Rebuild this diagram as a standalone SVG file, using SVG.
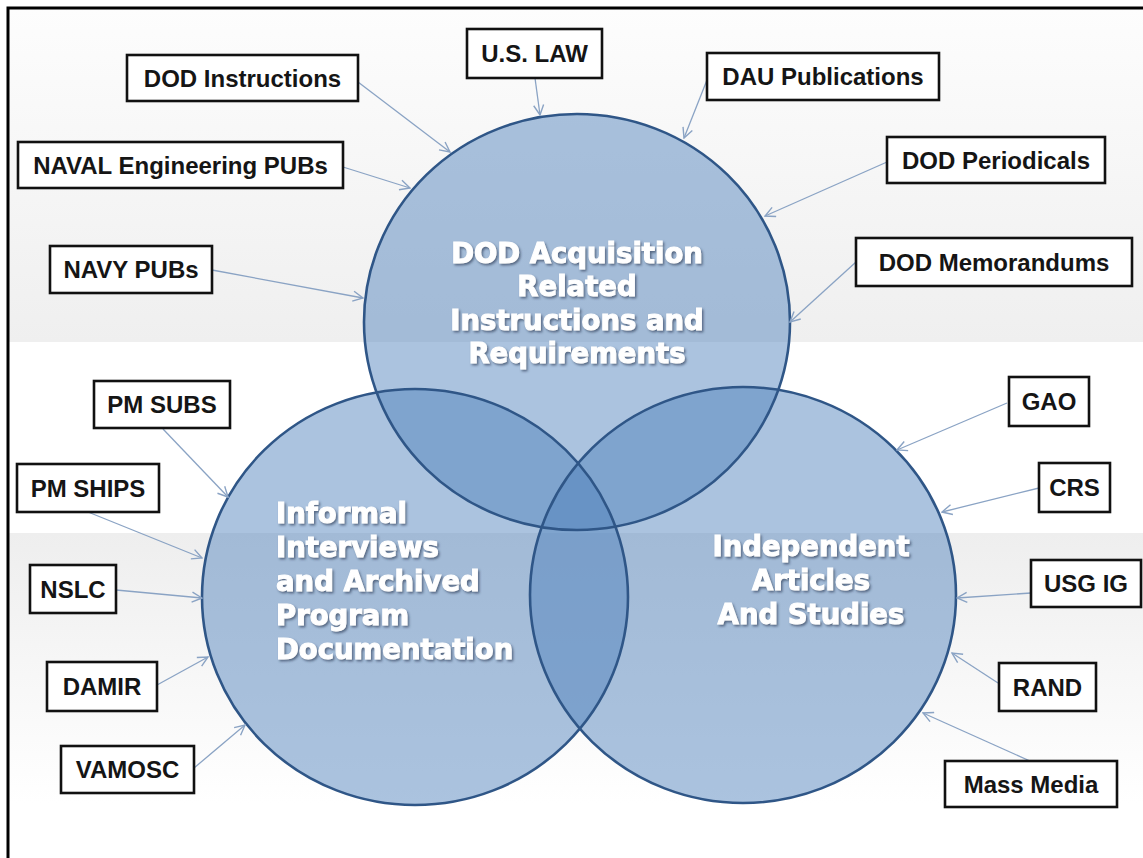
<svg xmlns="http://www.w3.org/2000/svg" xmlns:xlink="http://www.w3.org/1999/xlink" width="1143" height="858" viewBox="0 0 1143 858">
<defs>
<linearGradient id="bandTop" x1="0" y1="0" x2="0" y2="1">
<stop offset="0" stop-color="#fdfdfd"/>
<stop offset="1" stop-color="#efefef"/>
</linearGradient>
<linearGradient id="bandBot" x1="0" y1="0" x2="0" y2="1">
<stop offset="0" stop-color="#eeeeee"/>
<stop offset="1" stop-color="#ffffff"/>
</linearGradient>
<marker id="arr" viewBox="0 0 12 12" refX="11" refY="6" markerWidth="12" markerHeight="12" markerUnits="userSpaceOnUse" orient="auto">
<path d="M1,1 L11,6 L1,11" fill="none" stroke="#8aa3c4" stroke-width="1.4"/>
</marker>
<filter id="shadow" x="-10%" y="-30%" width="120%" height="160%">
<feDropShadow dx="1.5" dy="1.8" stdDeviation="0.9" flood-color="#2a3a55" flood-opacity="0.65"/>
</filter>
<style>
.box{fill:#ffffff;stroke:#111111;stroke-width:2.6}
.lbl{font-family:"Liberation Sans",Arial,sans-serif;font-weight:bold;font-size:24px;fill:#151515;text-anchor:middle}
.circ{fill:#4f81bd;fill-opacity:0.48;stroke:none}
.outl{fill:none;stroke:#2f5687;stroke-width:2.6}
.ctxt{font-family:"DejaVu Sans",Verdana,sans-serif;font-weight:bold;font-size:27.5px;fill:#ffffff;stroke:#ffffff;stroke-width:1;filter:url(#shadow)}
.con{fill:none;stroke:#8aa3c4;stroke-width:1.3;marker-end:url(#arr)}
</style>
</defs>
<rect x="0" y="0" width="1143" height="858" fill="#ffffff"/>
<rect x="8" y="8" width="1135" height="334" fill="url(#bandTop)"/>
<rect x="8" y="533" width="1135" height="270" fill="url(#bandBot)"/>
<path d="M8,870 V8 H1143" fill="none" stroke="#000000" stroke-width="3"/>

<g id="circle-dod">
<ellipse class="circ" cx="577" cy="322" rx="213" ry="208"/>
</g>
<g id="circle-informal">
<ellipse class="circ" cx="415" cy="597" rx="213" ry="208"/>
</g>
<g id="circle-independent">
<ellipse class="circ" cx="743" cy="595" rx="213" ry="208"/>
</g>
<g id="circle-outlines">
<ellipse class="outl" cx="577" cy="322" rx="213" ry="208"/>
<ellipse class="outl" cx="415" cy="597" rx="213" ry="208"/>
<ellipse class="outl" cx="743" cy="595" rx="213" ry="208"/>
</g>
<g id="circle-texts">
<text class="ctxt" text-anchor="middle" x="577" y="263">DOD Acquisition</text>
<text class="ctxt" text-anchor="middle" x="577" y="296">Related</text>
<text class="ctxt" text-anchor="middle" x="577" y="330">Instructions and</text>
<text class="ctxt" text-anchor="middle" x="577" y="363">Requirements</text>
<text class="ctxt" x="276" y="523">Informal</text>
<text class="ctxt" x="276" y="557">Interviews</text>
<text class="ctxt" x="276" y="591">and Archived</text>
<text class="ctxt" x="276" y="625">Program</text>
<text class="ctxt" x="276" y="659">Documentation</text>
<text class="ctxt" text-anchor="middle" x="811" y="556">Independent</text>
<text class="ctxt" text-anchor="middle" x="811" y="590">Articles</text>
<text class="ctxt" text-anchor="middle" x="811" y="624">And Studies</text>
</g>

<g id="connectors">
<line class="con" x1="358" y1="82" x2="450" y2="152"/>
<line class="con" x1="343" y1="167" x2="410" y2="188"/>
<line class="con" x1="212" y1="270" x2="363" y2="298"/>
<line class="con" x1="535" y1="78" x2="540" y2="115"/>
<line class="con" x1="707" y1="80" x2="684" y2="138"/>
<line class="con" x1="887" y1="162" x2="765" y2="216"/>
<line class="con" x1="856" y1="262" x2="790" y2="322"/>
<line class="con" x1="163" y1="429" x2="228" y2="497"/>
<line class="con" x1="88" y1="512" x2="202" y2="558"/>
<line class="con" x1="116" y1="590" x2="202" y2="598"/>
<line class="con" x1="157" y1="685" x2="208" y2="657"/>
<line class="con" x1="194" y1="768" x2="245" y2="725"/>
<line class="con" x1="1007" y1="403" x2="897" y2="450"/>
<line class="con" x1="1039" y1="488" x2="942" y2="512"/>
<line class="con" x1="1031" y1="593" x2="957" y2="598"/>
<line class="con" x1="998" y1="683" x2="952" y2="653"/>
<line class="con" x1="1030" y1="761" x2="923" y2="713"/>
</g>

<g id="n-dod-instructions"><rect class="box" x="127" y="55" width="231" height="46"/><text class="lbl" x="242.5" y="86.5">DOD Instructions</text></g>
<g id="n-naval-eng"><rect class="box" x="18" y="142" width="325" height="46"/><text class="lbl" x="180.5" y="173.5">NAVAL Engineering PUBs</text></g>
<g id="n-navy-pubs"><rect class="box" x="50" y="246" width="162" height="47"/><text class="lbl" x="131" y="278">NAVY PUBs</text></g>
<g id="n-us-law"><rect class="box" x="467" y="29" width="135" height="49"/><text class="lbl" x="534.5" y="62">U.S. LAW</text></g>
<g id="n-dau-pubs"><rect class="box" x="707" y="53" width="232" height="47"/><text class="lbl" x="823" y="85">DAU Publications</text></g>
<g id="n-dod-periodicals"><rect class="box" x="887" y="137" width="218" height="46"/><text class="lbl" x="996" y="168.5">DOD Periodicals</text></g>
<g id="n-dod-memos"><rect class="box" x="856" y="238" width="276" height="48"/><text class="lbl" x="994" y="270.5">DOD Memorandums</text></g>
<g id="n-pm-subs"><rect class="box" x="94" y="381" width="136" height="47"/><text class="lbl" x="162" y="413">PM SUBS</text></g>
<g id="n-pm-ships"><rect class="box" x="17" y="464" width="142" height="48"/><text class="lbl" x="88" y="496.5">PM SHIPS</text></g>
<g id="n-nslc"><rect class="box" x="30" y="565" width="86" height="48"/><text class="lbl" x="73" y="597.5">NSLC</text></g>
<g id="n-damir"><rect class="box" x="47" y="662" width="110" height="49"/><text class="lbl" x="102" y="695">DAMIR</text></g>
<g id="n-vamosc"><rect class="box" x="61" y="746" width="133" height="47"/><text class="lbl" x="127.5" y="778">VAMOSC</text></g>
<g id="n-gao"><rect class="box" x="1009" y="377" width="80" height="49"/><text class="lbl" x="1049" y="410">GAO</text></g>
<g id="n-crs"><rect class="box" x="1039" y="463" width="71" height="49"/><text class="lbl" x="1074.5" y="496">CRS</text></g>
<g id="n-usg-ig"><rect class="box" x="1031" y="560" width="110" height="47"/><text class="lbl" x="1086" y="592">USG IG</text></g>
<g id="n-rand"><rect class="box" x="999" y="663" width="97" height="48"/><text class="lbl" x="1047.5" y="695.5">RAND</text></g>
<g id="n-mass-media"><rect class="box" x="945" y="761" width="172" height="46"/><text class="lbl" x="1031" y="792.5">Mass Media</text></g>
</svg>
